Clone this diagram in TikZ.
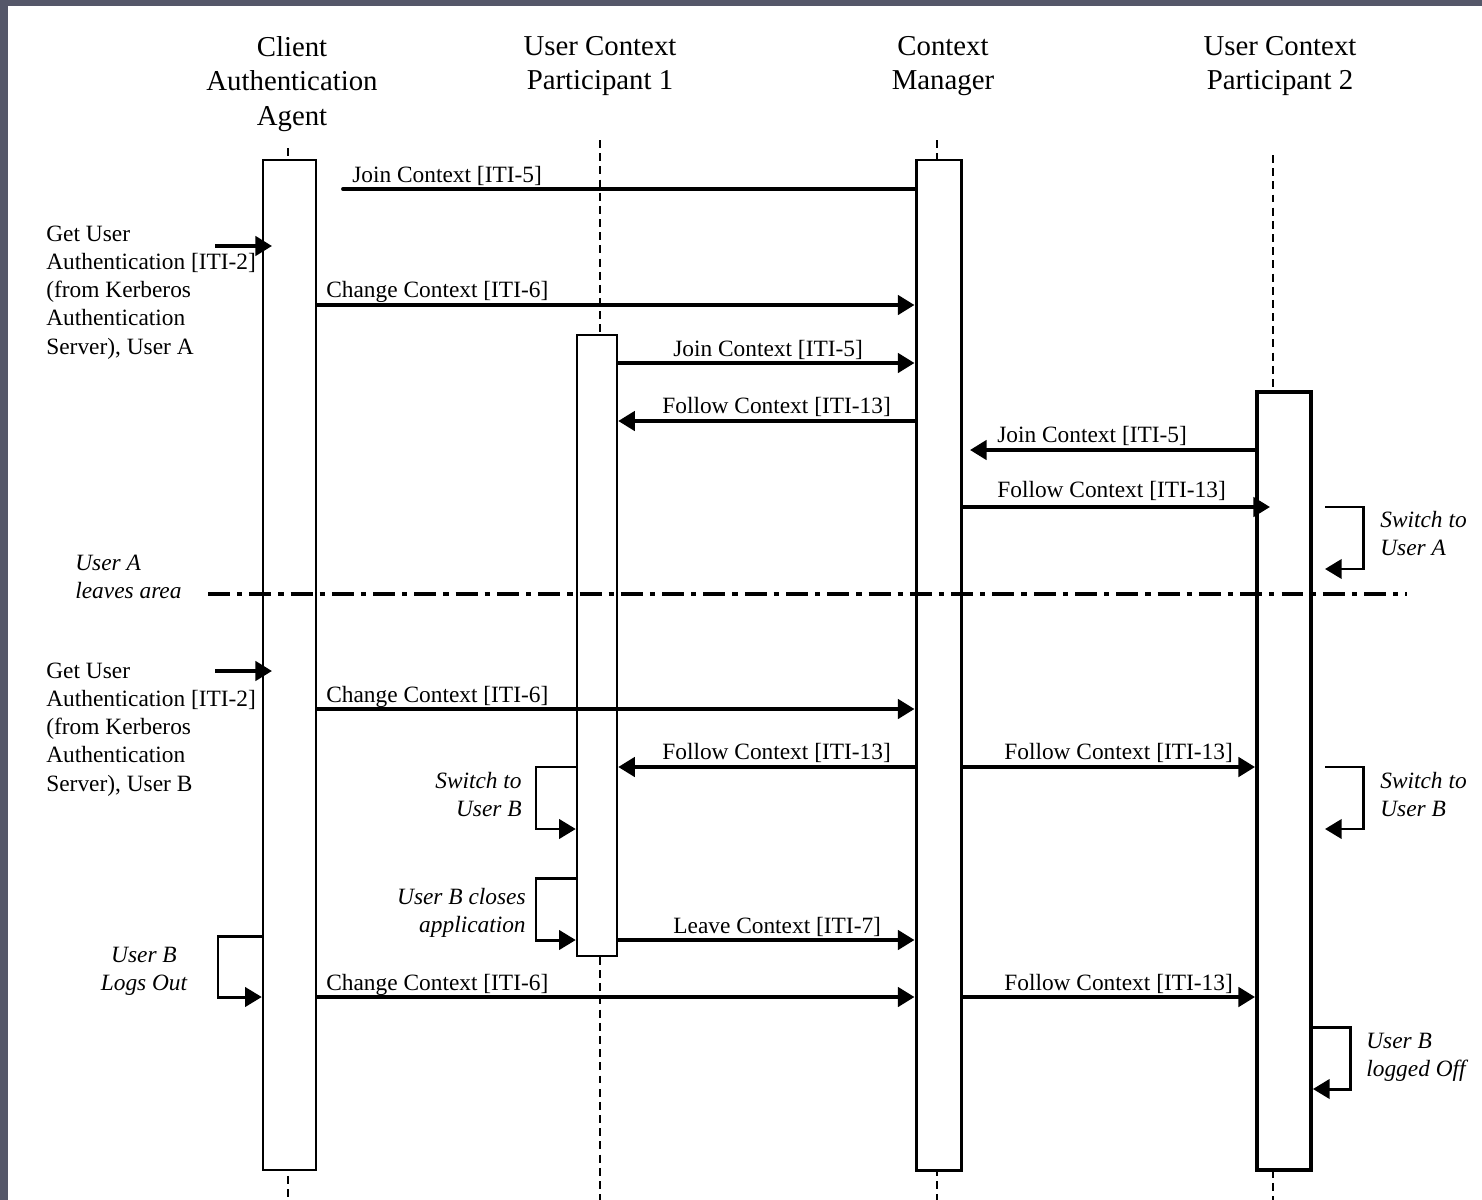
\documentclass[tikz,border=0pt]{standalone}
\usepackage{fontspec}
\setmainfont{Liberation Serif}
\usetikzlibrary{arrows.meta,fit}

\begin{document}
\begin{tikzpicture}[x=0.02cm, y=-0.02cm,
	actbox/.style={rectangle, draw=black, fill=white, line width=1.4pt, inner sep=0pt},
	lifeline/.style={line width=1.6pt, dash pattern=on 4.5pt off 3pt},
	msg/.style={line width=2.2pt, -{Triangle[length=9.5pt,width=11pt]}},
	selfmsg/.style={line width=1.7pt, -{Triangle[length=9.5pt,width=11pt]}},
	head/.style={align=center, anchor=base, inner sep=0pt, font=\fontsize{16.4}{19.6}\selectfont},
	lbl/.style={anchor=base west, inner sep=0pt, font=\fontsize{13.3}{16}\selectfont},
	note/.style={inner sep=0pt, font=\fontsize{13.3}{15.4}\selectfont\itshape}]

	% frame
	\useasboundingbox (0,0) rectangle (1482,1200);
	\fill[fill={rgb,255:red,85;green,87;blue,105}] (0,0) rectangle (1482,1200);
	\fill[white] (8,6) rectangle (1482,1200);

	% participants (base = last line)
	\node (hcaa) [head] at (292,125) {Client\\Authentication\\Agent};
	\node (hp1) [head] at (600,90) {User Context\\Participant 1};
	\node (hcm) [head] at (943,90) {Context\\Manager};
	\node (hp2) [head] at (1280,90) {User Context\\Participant 2};

	% lifelines
	\coordinate (caatop) at (288,148);  \coordinate (caabot) at (288,1200);
	\coordinate (p1top) at (600,140);   \coordinate (p1bot) at (600,1200);
	\coordinate (cmtop) at (937,140);   \coordinate (cmbot) at (937,1200);
	\coordinate (p2top) at (1273,155);  \coordinate (p2bot) at (1273,1200);
	\draw [lifeline] (caatop) -- (caabot);
	\draw [lifeline] (p1top) -- (p1bot);
	\draw [lifeline] (cmtop) -- (cmbot);
	\draw [lifeline] (p2top) -- (p2bot);

	% activation boxes
	\node (caa) [actbox, fit={(263,160) (316,1170)}] {};
	\node (p1) [actbox, fit={(577,335) (617,956)}] {};
	\node (cm) [actbox, line width=1.7pt, fit={(916,160) (961,1170)}] {};
	\node (p2) [actbox, line width=2.2pt, fit={(1257,392) (1311,1170)}] {};

	% user A
	\coordinate (join1) at (343,189);
	\draw [line width=2.2pt, line cap=round] (join1) -- (cm.west |- join1);
	\node (ljoin1) [lbl] at (352,182) {Join Context [ITI-5]};

	\coordinate (getA) at (215,246);
	\draw [msg] (getA) -- (272,246);
	\node (lgetA) [lbl, align=left] at (46,354) {Get User\\Authentication [ITI-2]\\(from Kerberos\\Authentication\\Server), User A};

	\draw [msg] (caa.east |- 0,305) -- (cm.west |- 0,305);
	\node (lchg1) [lbl] at (326,297) {Change Context [ITI-6]};

	\draw [msg] (p1.east |- 0,363) -- (cm.west |- 0,363);
	\node (ljoin2) [lbl] at (673,356) {Join Context [ITI-5]};

	\draw [msg] (cm.west |- 0,421) -- (p1.east |- 0,421);
	\node (lfol1) [lbl] at (662,413) {Follow Context [ITI-13]};

	\draw [msg] (p2.west |- 0,450) -- (970,450);
	\node (ljoin3) [lbl] at (997,442) {Join Context [ITI-5]};

	\draw [msg] (cm.east |- 0,507) -- (1270,507);
	\node (lfol2) [lbl] at (997,497) {Follow Context [ITI-13]};

	\draw [selfmsg] (1325,507) -- (1363,507) -- (1363,569) -- (1325,569);
	\node (nswA) [note, align=left, anchor=base west] at (1380,555) {Switch to\\User A};

	% user A leaves
	\coordinate (leaveL) at (208,594);
	\coordinate (leaveR) at (1407,594);
	\draw [line width=2.2pt, dash pattern=on 12.5pt off 4pt on 3pt off 4pt] (leaveL) -- (leaveR);
	\node (nleave) [note, align=left, anchor=base west] at (75,598) {User A\\leaves area};

	% user B
	\coordinate (getB) at (215,671);
	\draw [msg] (getB) -- (272,671);
	\node (lgetB) [lbl, align=left] at (46,791) {Get User\\Authentication [ITI-2]\\(from Kerberos\\Authentication\\Server), User B};

	\draw [msg] (caa.east |- 0,709) -- (cm.west |- 0,709);
	\node (lchg2) [lbl] at (326,702) {Change Context [ITI-6]};

	\draw [msg] (cm.west |- 0,767) -- (p1.east |- 0,767);
	\node (lfol3) [lbl] at (662,759) {Follow Context [ITI-13]};

	\draw [msg] (cm.east |- 0,767) -- (p2.west |- 0,767);
	\node (lfol4) [lbl] at (1004,759) {Follow Context [ITI-13]};

	\draw [selfmsg] (p1.west |- 0,767) -- (536,767) -- (536,829) -- (p1.west |- 0,829);
	\node (nswB1) [note, align=right, anchor=base east] at (522,816) {Switch to\\User B};

	\draw [selfmsg] (1325,767) -- (1363,767) -- (1363,829) -- (1325,829);
	\node (nswB2) [note, align=left, anchor=base west] at (1380,816) {Switch to\\User B};

	\draw [selfmsg] (p1.west |- 0,878) -- (536,878) -- (536,940) -- (p1.west |- 0,940);
	\node (nclose) [note, align=right, anchor=base east] at (526,932) {User B closes\\application};

	\draw [msg] (p1.east |- 0,940) -- (cm.west |- 0,940);
	\node (lleave) [lbl] at (673,933) {Leave Context [ITI-7]};

	\draw [selfmsg] (caa.west |- 0,936) -- (218,936) -- (218,997) -- (caa.west |- 0,997);
	\node (nlogout) [note, align=center, anchor=base] at (144,990) {User B\\Logs Out};

	\draw [msg] (caa.east |- 0,997) -- (cm.west |- 0,997);
	\node (lchg3) [lbl] at (326,990) {Change Context [ITI-6]};

	\draw [msg] (cm.east |- 0,997) -- (p2.west |- 0,997);
	\node (lfol5) [lbl] at (1004,990) {Follow Context [ITI-13]};

	\draw [selfmsg] (p2.east |- 0,1027) -- (1350,1027) -- (1350,1089) -- (p2.east |- 0,1089);
	\node (nloggedoff) [note, align=left, anchor=base west] at (1366,1076) {User B\\logged Off};
\end{tikzpicture}
\end{document}
